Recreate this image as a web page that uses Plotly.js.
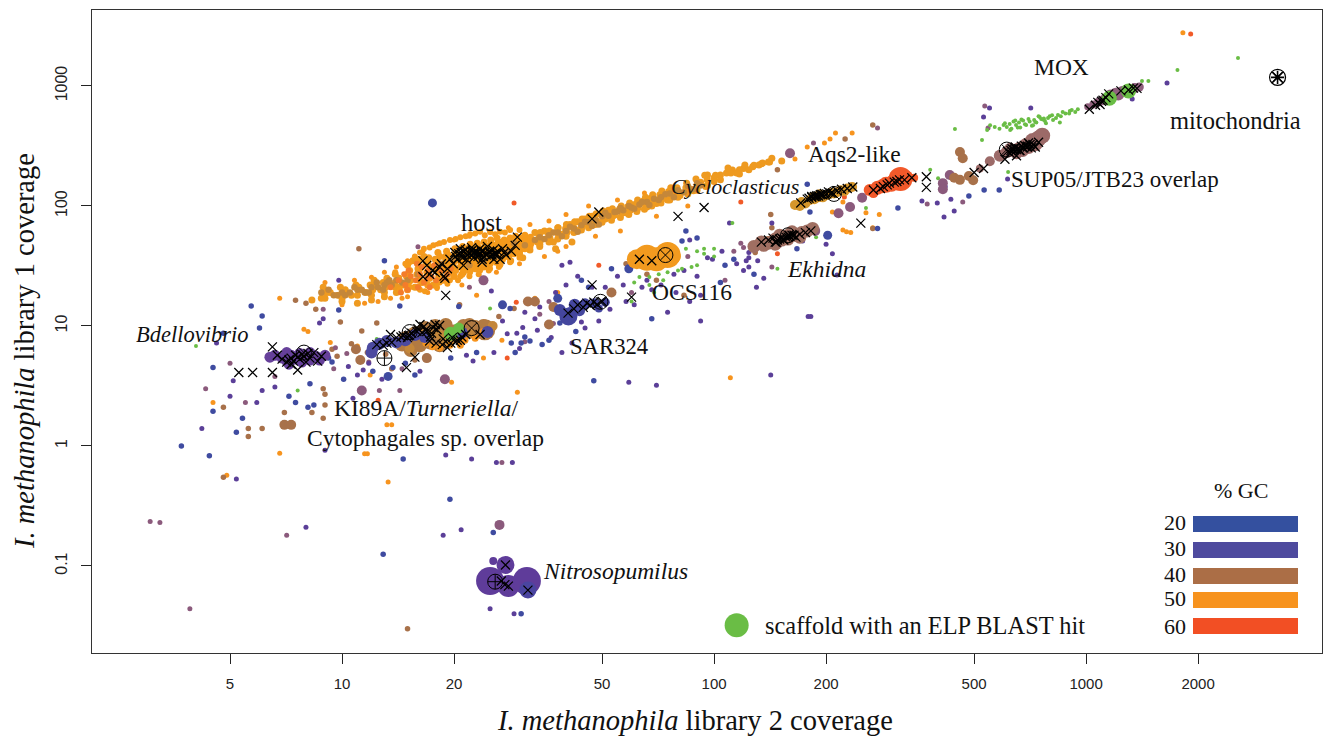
<!DOCTYPE html>
<html><head><meta charset="utf-8">
<script src="https://cdn.plot.ly/plotly-3.0.1.min.js"></script>
<style>html,body{margin:0;padding:0;background:#fff}</style></head>
<body><div id="chart" style="width:1327px;height:740px"></div>
<script>
const xTicks=[5,10,20,50,100,200,500,1000,2000];
const yTicks=[0.1,1,10,100,1000];
const yTickText=['0.1','1','10','100','1000'];
const gcLevels=['20','30','40','50','60'];

const purpleX=[5.1,5,5.9,4.2,5.2,9,19,22.3,28.7,8.9,8.7,25.2,27.8,29.5,30,21.6,25.6,11.4,11,10.7,6.1,41,39,55,51,43,40,47,86,99,96,79,86,92,68,64,92,30.6,33,31,34,39,45,49,59,70,142,182,26,8,25.5,20.9,18.7,25,29,124,136,131,124,122,124,208,200,143,214,179,362,398,433,442,415,418,615,550,710,530,1330,1650,173,110,4.6,6.6,9.8,58,75,115,130,33.5,36.5,41.5,44,37.5,52.5,57,61,66,72,78,83,90,105,120,11.8,10.4,12.8,16.2,22.5,24.5,27];
const purpleY=[3.5,2.6,2.3,1.4,0.53,0.92,0.84,0.78,0.73,11.5,10.6,19.6,8.6,8.7,6.5,5.7,6,4.3,3.9,2.5,2.9,34,32,26,21,26,22,21,52,36,37,19,16,18,20,21,11,9.7,11.5,13,14.4,6,9.6,11,3.4,3.2,3.9,12,0.73,0.21,0.11,0.2,0.18,0.044,0.04,31,25,35,41,35,37,40,48,72,26.6,12,110,106,114,91,81,145,168,655,655,552,780,1060,51,72,7.2,3.1,24,16,13,33,21,9.2,8,7.2,10.8,19,13.8,22,15,24,22,27,29,26,42,29,4.9,4.6,3.6,4.2,5.1,9.4,11];
const blueX=[5.7,6.1,6,4.8,4.5,4.5,5.4,5.2,3.7,4.4,14.6,7.2,7.5,8.1,8.4,8.2,9.8,25.5,28.5,30.3,29.2,23,19.6,13,14.3,20.6,28.3,9.4,9.2,10.1,12.1,13.7,14.8,15.7,53,68,47.5,90,82,84,107,104,167,181,178,275,312,484,532,584,30.3,19.5,12.9,36,44,46,113,128,32,34.5,31,38.5,42.5];
const blueY=[14.7,12.1,9.6,8.7,4.5,1.95,1.7,1.3,1,0.83,0.78,2.6,2.3,2.1,2.2,3.3,13.6,0.19,7.2,7.2,6,6,5.4,35,14.7,14.5,14,5,5.4,3.6,4.2,4.5,4.9,3.9,30,11.5,3.5,54,51,62,32,23,44,89,152,65,96,121,136,136,0.04,0.36,0.125,7.6,24,21,36,27,7.5,7,8.1,10.6,9];
const mauveX=[5,4.3,5.5,3.9,3.24,3.05,7.1,26.9,9.5,14.3,16,14.5,85,113,120,185,275,374,466,534,545,6.6,8.9,12.6,31,22,37,107,143,150,118,9.6,10.3,11.8,34,36,60];
const mauveY=[4.9,3,2.3,0.044,0.23,0.235,0.18,0.73,4.4,2.9,45.7,4.4,38,42,45,335,447,104,108,680,447,3.8,13.8,2.9,7.4,21,10.5,24,31,47,49,6.6,5.9,5,12.5,16,19];
const brownX=[4.8,7,8.3,6.1,5.6,5.6,4.8,7.5,8,8.5,9.9,9.4,11.7,12.4,15.7,20.7,8.9,9,9,8.9,225,267,267,129,142,143,66,70,11.1,15,9.7,11.3,83,58,148,10.6,12.2,13.1,13.6,26.4,29];
const brownY=[2.1,1.9,1.9,1.4,1.4,1.2,0.55,16.4,15.5,13.8,10.8,6.4,6,10.6,5.2,15,3,2.7,2.2,1.7,362,473,65,41,85,66,27,24,44,0.03,5.6,9.1,18,33,200,7.1,6.5,5.8,4.4,12,14];
const orangeX=[6.8,6.8,7.9,8.1,9.3,4.9,11.5,11.7,13.3,13.2,13.6,19.7,29.6,23,26.9,11.9,235,212,205,198,178,165,222,227,233,267,222,278,24,33,11,38,216,208,256,4.5,110.6,1820,9,10,10.8,11.5,12.5,13.5,14.5,15,13,14,15,16.5,18,20,22,25,28,32,36,40,46,55,65,26,30,35,40,48,56,70,85,38,12,17,18,21,24];
const orangeY=[17,0.87,9.4,9,7.3,0.57,0.86,0.86,0.5,1.5,1.5,3.4,2.8,18,7.6,3.9,405,405,362,335,310,246,63,61,60,66,108,85,5.4,17,6.8,19,87,89,88,2.3,3.7,2770,23,15,24,15.5,16,17,17,17.5,28,31,35,42,48,52,56,60,66,70,75,85,100,112,128,28,33,38,46,56,62,82,100,42,25.5,19,20.5,22,25];
const redX=[29.4,27.8,29,12.5,118,224,1910,49,148];
const redY=[15.8,5.4,106,2.4,108,119,2710,32,40];
const greenX=[4.05,25,12.4,7.6,63,67,71,75,80,82,87,79,84,94,100,90,61,60,148,256,216,174,158,188,400,381,617,444,525,542,568,600,612,623,638,648,660,677,690,705,725,735,757,750,775,790,798,815,840,865,900,904,935,850,770,1413,1470,1760,2560,100,94,73,90,67,69,112,552,585,605,630,645,655,670,685,700,715,730,745,765,780,810,830,855,880,915,950,625,665,720];
const greenY=[6.8,14,7.8,2.9,25.6,25.6,27,28,29,30,31,41,44,44,38,32,23,16,30,96,84,60,62,55,170,200,192,438,355,430,455,473,455,482,505,473,495,515,473,505,521,495,530,550,510,540,560,521,573,607,590,620,607,495,535,1100,1100,1360,1710,44,40,24,42,22,19,72,470,440,490,440,515,450,525,480,530,465,500,560,525,490,570,540,560,590,630,640,430,450,470];

const bigMauveX=[24,18.9,216,232,250,187,160,430,412,11.3,412,26.5];
const bigMauveY=[24,3.6,87,98,117,62,275,181,155,2.9,138,0.22];
const bigBrownX=[7,11.2,10.9,31.6,33,36,37,53,128,140,442,458,497,484,458,466,7.3,16.9];
const bigBrownY=[1.5,5.2,6.4,16,16,10.3,14.4,19,46,51,172,165,164,178,282,250,1.5,5.4];
const bigBlueX=[13.3,17.5,27,59,38,202];
const bigBlueY=[3.8,106,15,30,17,57];

const hostOrangeX=[9.3,9.8,10.2,10.6,11.1,11.6,12.3,12.7,13.3,13.9,14.2,14.6,15,15.3,15.7,16,16.2,16.4,16.8,17,17.2,17.6,17.8,18,18.3,18.6,19,19.2,19.6,20,20.2,20.5,20.8,21.2,21.6,22,22.4,22.8,23,23.5,24,24.5,25,25.5,26,26.6,27,27.5,28,29,29.5,30,31,31.5,32,33,33.5,34,35,36,37,38,39,40,41,42,43,44,45,46,47,48,50,51,52,54,56,58,60,62,64,66,68,70,72,75,78,81,84,88,92,96,100,104,108,112,117,120,128,134,141,152,143,140,135,132,127,124,121,117,115,111,109,104,96,15.5,16.6,18.2,19.8,21.4,23.2,24.8,26.4,28.4,30.6,12,11,13,10,8.8,8.3,34,37.5,41.5];
const hostOrangeY=[19,18,20,18,21,19,22,20,23,21,25,22,27,24,21,30,26,23,33,28,25,22,36,31,27,24,38,33,29,26,42,36,31,28,44,38,33,30,46,40,35,32,47,41,36,33,50,43,38,52,45,40,56,48,43,60,50,46,62,54,50,66,58,62,70,61,74,66,78,70,82,73,86,78,92,84,94,88,100,92,106,98,112,105,120,112,130,122,142,134,158,148,172,165,188,199,185,205,218,225,232,237,250,233,228,220,212,200,220,200,188,188,207,181,181,35,38,30,28,33,37,33,44,35,37,16.5,15.5,17.5,16,17,16.5,50,44,50];
const hostCoreX=[15,15.1,14.9,15.2,15,16,16.1,15.9,16.2,16,16.1,17,17.1,16.9,17.2,17,17.1,18,18.2,17.9,18.1,18,18.3,18.1,19,19.2,18.9,19.1,19,19.3,19.1,20,20.2,19.9,20.1,20,20.3,20.1,21,21.2,20.9,21.1,21,21.3,21.1,22,22.2,21.9,22.1,22,22.3,22.1,23,23.2,22.9,23.1,23,23.3,23.1,24,24.2,23.9,24.1,24,24.3,24.1,25,25.2,24.9,25.1,25,25.3,25.1,26,26.2,25.9,26.1,26,26.3,26.1,27,27.2,26.9,27.1,27,27.3,28,28.2,27.9,28.1,28,28.3,29,29.2,28.9,29.1,29,29.3,30,30.2,29.9,30.1,30,31,31.2,30.9,31.1,31,32,32.2,31.9,32.1];
const hostCoreY=[20,23,26,29,32,21,24,27,30,33,36,22,25,28,31,34,37,23,26,29,32,35,38,41,24,27,30,33,36,39,42,26,29,32,35,38,41,44,27,30,33,36,39,42,46,29,32,35,38,41,44,48,30,33,36,39,42,45,49,31,34,37,40,43,46,50,33,36,39,42,45,48,52,34,37,40,43,46,50,54,36,39,42,45,48,52,38,41,44,47,50,54,40,43,46,49,52,56,42,45,48,51,54,44,47,50,53,57,46,49,52,55];
const hostEdgeX=[15.2,16.2,17.2,18.3,19.5,20.8,22.1,23.5,25,26.6,28.3,30,14.3,15.2,16.2,17.2,18.3,19.5,20.8,22.1,23.5,25,26.6,28.3,30,16.6,17.6,18.8,20.2,21.5,22.8,24.2,25.8,27.4,15.7,14.8,13.9,16.7,18,19.2,20.5,22,23.3,24.8,26.4];
const hostEdgeY=[34,41,45,49,52,55,58,61,61,61,63,63,20,21,20,21.5,23,24,26,28,29,30,32,34,37,44,47,50,53,56,59,57,58,60,38,33,28,19.5,21,22.5,24,26,27,29,31];
const hostTailX=[9,9.1,8.9,10,10.1,9.9,11,11.1,10.9,12,12.1,11.9,12.2,13,13.1,12.9,13.2,14,14.1,13.9,14.2,13.9];
const hostTailY=[17,19,21,17,19,21,18,20,22,18,20,22,24,19,21,23,25,19,21,23,25,27];
const hostMidX=[34,34.2,33.9,34.1,36,36.2,35.9,36.1,38,38.2,37.9,38.1,40,40.2,39.9,40.1,42,42.3,41.8,42.2,44,44.3,43.8,44.2,46,46.3,45.8,46.2,48,48.4,47.8,48.2,50,50.4,49.7,50.3,53,53.4,52.7,53.3,56,56.5,55.7,56.3,59,59.5,58.7,59.3,62,62.5,61.6,62.3,65,65.6,64.6,65.4,68,68.6,67.6,68.4,72,72.6,71.5,72.4,76,76.7,75.5,76.5,80,80.7,79.5,85,85.8,84.4,90,90.8,89.4,95,95.8,94.4,100,100.9];
const hostMidY=[48,52,56,60,50,54,58,62,53,57,61,66,56,60,65,70,60,64,69,74,63,68,73,78,66,71,76,82,70,75,80,86,73,79,85,91,76,82,88,95,80,87,94,100,85,92,99,106,90,97,104,112,94,102,110,118,100,108,116,124,106,115,124,133,112,122,132,142,118,130,142,126,140,155,135,150,168,145,165,180,160,180];
const hostTanX=[9.5,10,10.5,11,11.5,12,12.5,13,13.6,14,14.5,15,31,33,35,36,38,40,42,44,46,48,50,52,55,57,60,63,66,69,72,76,80,85,90,22,24,26,28,29,18.5,20,16,13.2,8.8,9.2,9.7,10.2,10.8,11.3,11.8,12.4,12.9,13.4,34,37,39,41,43,45,47,49,51,54,56,59,61,64,67,71,74,78,83,88,92];
const hostTanY=[18,19,19,20,19,21,21,22,22,24,23,24,47,52,53,57,60,62,65,69,73,76,82,83,90,92,97,103,108,115,118,127,135,147,155,32,35,38,42,49,33,37,27,23,19,20,18,18,21,20,19,23,20,24,55,60,56,67,61,74,68,70,88,89,96,100,95,108,102,112,125,118,130,138,148];
const hostRedX=[13.5,14.2,14.8,15.3,15.8,16.2,16.6,17,17.4,17.9,15,16,17.2,18.4,14.4,19.2,16.4,15.1,15.9,17.7,18.8,19.6,16.9,14.7];
const hostRedY=[21,24,22,26,24,27,23,29,26,24,20,21,21,29,19,27,31,29,33,32,25,30,25,27];

const kiBrownX=[14.8,15.7,16.7,17.8,19,20,22,23.5,24,18.3,17.2,16.2,15.3,21.2,18.5,17,15.9,19.5,21,22.8,14.5];
const kiBrownY=[7.9,8.7,9.6,10,10.2,9,10.2,9,10,6.9,7.3,6.9,6.3,10,8,8.5,7.8,8.2,8.7,9.8,7];
const kiTanX=[16.2,17.2,18.3,19.5,20.8,18.9,15.2,22,25.4];
const kiTanY=[8.4,8.4,8.4,7.6,7.6,7.6,6.5,8.6,10];
const kiOrangeX=[19.5,20.8,21.4,22.8,18.3,17.5,16.8,24];
const kiOrangeY=[6.9,6.9,7.6,7.9,6.6,6.7,7.2,9];
const kiBlueX=[12.1,12.6,13.2,14,14.8,12,15.7,16.7,21,24.6];
const kiBlueY=[6.6,7.1,7.5,7.3,7.6,6,8.4,8.1,8.8,8.9];
const kiBigX=[24.2];
const kiBigY=[9.3];

const bdelloX=[6.6,6.9,7.1,7.1,7.3,7.5,7.7,7.8,8,8.2,8.2,8.5,8.7,9,7.2,6.4];
const bdelloY=[5.7,5.4,6,5.1,5.7,5.3,5.9,5,5.6,5.2,6,5.6,5.2,5.7,4.8,5.5];
const sarX=[40.6,38.5,42.2,45,47.8,51,43.5,41,49];
const sarY=[12,13.6,15,15.3,15.5,15.8,13.4,13,14];
const sarSize=[18,12,12,11,10,9,11,10,8];
const ocsX=[66,75,62,70,78];
const ocsY=[37,39,36,36,38];
const ocsSize=[26,26,20,24,14];
const aqsX=[165,172,181,190,198,206,219,228,235,176,186,196,210,170,184,192,202,214,224];
const aqsY=[102,108,112,118,122,128,135,140,144,105,114,118,127,100,118,125,124,130,133];
const ekhX=[128,134,140,146,152,158,165,172,178,184,146,158,136,143,150,162,170];
const ekhY=[46,50,49,53,52,57,57,60,62,65,48,53,47,50,57,61,55];
const redBlobX=[317,262,275,290,304,268,283,345,300,330];
const redBlobY=[168,136,142,150,158,128,146,172,150,175];
const redBlobSize=[24,12,14,16,16,10,14,8,14,12];
const supX=[518,551,586,612,640,663,690,720,745,762,600,650,625,675,700,730];
const supY=[205,236,262,282,290,300,322,345,365,385,270,275,300,290,310,330];
const supSize=[8,10,12,12,13,14,14,17,16,16,10,12,12,13,14,15];
const moxX=[1010,1045,1080,1110,1130,1160,1200,1250,1300,1350,1390,1220];
const moxY=[670,700,735,760,790,840,870,900,925,960,980,850];
const moxSize=[7,8,9,10,10,11,11,11,10,10,9,12];
const elpX=[19.6,20.6,1155,1300];
const elpY=[8.6,9.6,790,910];
const elpSize=[14,11,15,15];
const nitroX=[25,27.5,28,31.4,25.5];
const nitroY=[0.075,0.102,0.068,0.075,0.11];
const nitroSize=[28,18,22,28,8];
const nitroBlueX=[31.6];
const nitroBlueY=[0.063];

const crossX=[16.5,16.5,17.5,17.8,18.5,18.8,19.2,19.5,18.9,20.1,20.4,20.8,21,21.3,21.6,22,22.3,22.6,22.9,23.2,23.5,23.8,24.2,24.6,25,25.5,26,26.6,27,27.6,28.5,29.2,23.8,25.6,21.2,29.6,19,47,49,20.6,21.5,22.4,23.1,24,24.9,20.2,22.2,23.4,25.3,26.2,20.9,21.7,22.6,23.6,24.4,25.7,21.1,22.4,23.7,24.9,26,27.3,18.3,19.9,17.2,16.9,
 12.9,13.6,12.4,14.4,15.2,15.9,16.2,16.9,17.3,17.8,18.3,17.2,17.9,18.6,19.2,20.8,21.5,23.5,15.7,14.9,14,13.5,15,16,16.6,17.6,19.8,20.4,14.6,15.4,16.4,18,19,21,16.8,17.4,18.7,19.6,20.2,15.1,13.2,
 6.5,6.7,6.9,7.1,7.3,7.5,7.6,7.7,7.9,8,8.1,8.2,8.4,8.6,8.8,7.3,5.28,5.75,6.5,7.2,7.6,7.8,7.4,
 40.5,42,43,44.5,45.5,46.5,47.5,48.5,50,47,
 63,68,60,80,94,
 171,178,183,188,193,198,203,208,214,220,228,236,248,180,186,191,196,201,206,183,189,194,
 134,140,146,150,154,158,162,166,170,176,182,144,148,152,156,160,164,147,153,159,
 268,280,292,305,315,325,340,372,372,285,296,310,
 500,530,605,625,640,650,662,675,688,700,712,730,745,650,615,632,645,658,670,682,695,707,720,628,642,664,680,696,
 1020,1060,1100,1130,1150,1240,1300,1340,1370,1090,1110,1075,
 27.5,28,31.6,26.8,27.4];
const crossY=[34.9,25.7,29,28,33,26,30,36,25,41,36,44,38,42,36,40,45,37,42,38,44,36,41,46,38,43,40,36,44,39,42,47,34,36,32,55,18,78,89,40,43,39,41,38,41,38,42,40,39,42,41,39,41,40,39,40,37,43,42,42,39,41,31,33,27,32,
 6.9,7.3,7,8.1,8.4,9,10.3,9,8.1,10.3,10.1,7.5,7.2,7,6.6,7.6,8.5,8.5,5.5,4.5,8,8.5,8,9.5,9.9,9.7,8,7.6,8.3,8.7,8.8,9.3,7.4,8.1,9.3,8.7,7.8,7.2,7.3,8.3,7.2,
 6.7,5.7,5.3,5,5.4,5.7,4.3,5.3,5.6,5,5.9,5.4,6,5.1,5.6,4.8,4.1,4.1,4.1,5.2,5.5,5.8,5.1,
 12.8,13.9,15,14.3,15.5,14.8,15.8,15.1,16,22,
 36,35,17.4,82,97,
 106,114,118,120,124,127,131,128,134,138,140,144,72,116,120,121,124,126,128,120,122,125,
 50,52,50,53,52,55,57,55,58,60,62,54,52,54,55,56,57,50,53,57,
 136,140,150,158,165,165,172,175,143,145,155,160,
 190,205,245,275,295,295,290,305,315,335,305,310,340,262,285,300,310,300,315,320,310,325,325,290,305,290,305,315,
 640,690,745,800,860,910,925,960,955,700,760,730,
 0.102,0.068,0.063,0.075,0.07];
const circPlusX=[13,25.8];
const circPlusY=[5.4,0.074];
const circCrossX=[7.9,22.3,49.5,74,210,158,612,15.2];
const circCrossY=[6.0,9.6,15.9,39,126,57,295,8.9];
const mitoX=[3270];
const mitoY=[1180];
const keyX=[115];
const keyY=[0.0321];

const COL={purple:'#5b3f98',blue:'#3f4ba0',mauve:'#8b5a7c',brown:'#a8714a',tan:'#c4873a',orange:'#f7941e',red:'#f15a28',green:'#6abd45',hostO:'#ee9a20',band:'#d6962b',eka:'#a06f62',sup:'#9c6a68',mox:'#8f5f7c'};
function dots(x,y,color,size){return {type:'scatter',mode:'markers',x,y,hoverinfo:'skip',marker:{color,size,opacity:1,line:{width:0}}};}
const traces=[
 dots(orangeX,orangeY,COL.orange,5),
 dots(hostOrangeX,hostOrangeY,COL.hostO,7),
 dots(hostTailX,hostTailY,COL.hostO,7),
 dots(hostMidX,hostMidY,COL.hostO,7),
 dots(hostCoreX,hostCoreY,'#f59a1c',7),
 dots(hostEdgeX,hostEdgeY,'#f59a1c',6),
 dots(hostTanX,hostTanY,COL.tan,6.5),
 dots(hostRedX,hostRedY,'#f47c2a',6),
 dots(brownX,brownY,COL.brown,5.5),
 dots(mauveX,mauveY,COL.mauve,5),
 dots(purpleX,purpleY,COL.purple,5),
 dots(blueX,blueY,COL.blue,5.5),
 dots(redX,redY,COL.red,5),
 dots(greenX,greenY,COL.green,4),
 dots(bigMauveX,bigMauveY,COL.mauve,10),
 dots(bigBrownX,bigBrownY,COL.brown,10),
 dots(bigBlueX,bigBlueY,COL.blue,9),
 dots(kiBrownX,kiBrownY,'#b27a42',14),
 dots(kiBigX,kiBigY,'#b27a42',21),
 dots(kiTanX,kiTanY,'#c4873a',10),
 dots(kiOrangeX,kiOrangeY,COL.orange,7),
 dots(kiBlueX,kiBlueY,'#4c4aa0',12),
 dots(bdelloX,bdelloY,'#66409a',11),
 dots(sarX,sarY,'#44469e',sarSize),
 dots(ocsX,ocsY,'#f29a1f',ocsSize),
 dots(aqsX,aqsY,COL.band,10),
 dots(ekhX,ekhY,COL.eka,13),
 dots(redBlobX,redBlobY,'#f2592a',redBlobSize),
 dots(supX,supY,COL.sup,supSize),
 dots(moxX,moxY,COL.mox,moxSize),
 dots(elpX,elpY,COL.green,elpSize),
 dots(nitroX,nitroY,'#5f3c9a',nitroSize),
 dots(nitroBlueX,nitroBlueY,'#4a45a0',17),
 {type:'scatter',mode:'markers',x:crossX,y:crossY,hoverinfo:'skip',marker:{symbol:'x-thin-open',size:9,color:'#000',line:{color:'#000',width:1.25}}},
 {type:'scatter',mode:'markers',x:circPlusX,y:circPlusY,hoverinfo:'skip',marker:{symbol:'circle-cross-open',size:15,color:'#000',line:{color:'#000',width:1}}},
 {type:'scatter',mode:'markers',x:circCrossX,y:circCrossY,hoverinfo:'skip',marker:{symbol:'circle-x-open',size:15,color:'#000',line:{color:'#000',width:1}}},
 {type:'scatter',mode:'markers',x:mitoX,y:mitoY,hoverinfo:'skip',marker:{symbol:'circle-x-open',size:16,color:'#000',line:{color:'#000',width:1.2}}},
 {type:'scatter',mode:'markers',x:mitoX,y:mitoY,hoverinfo:'skip',marker:{symbol:'asterisk-open',size:11,color:'#000',line:{color:'#000',width:1.6}}},
 dots(keyX,keyY,COL.green,24)
];
const W=1230,H=643,L=92,T=10;
const px=v=>(v-L)/W, py=v=>1-(v-T)/H;
const SERIF='"Liberation Serif",serif';
function lab(text,x,y,size,anchor){const a=anchor||'left';return {text,xref:'paper',yref:'paper',x:px(a==='left'?x-2:(a==='right'?x+2:x)),y:py(y),xanchor:a,yanchor:'middle',showarrow:false,font:{family:SERIF,size:size||23.5,color:'#111'}};}
const annotations=[
 lab('MOX',1034,67),lab('mitochondria',1170,120,24.5),lab('Aqs2-like',808,154),
 lab('SUP05/JTB23 overlap',1011,180,23),lab('<i>Cycloclasticus</i>',671,186,22),
 lab('<i>Ekhidna</i>',787,269),lab('OCS116',652,292),lab('host',461,222,24.5),
 lab('SAR324',570,346,22.7),lab('<i>Bdellovibrio</i>',136,334,22.5),
 lab('KI89A/<i>Turneriella</i>/',334,408,23.5),lab('Cytophagales sp. overlap',307,438,23.5),
 lab('<i>Nitrosopumilus</i>',543,571,23.5),lab('scaffold with an ELP BLAST hit',765,625,24.4),
 lab('% GC',1241,490,22,'center'),
 ...gcLevels.map((t,i)=>lab(t,1186,[522,548,574,598,626][i],22,'right')),
 lab('<i>I. methanophila</i> library 2 coverage',695,721,28.5,'center'),
 Object.assign(lab('<i>I. methanophila</i> library 1 coverage',24,351,28.5,'center'),{textangle:-90})
];
const legendCols=['#34509f','#4e4a9e','#ab6e46','#f7931e','#f24f24'];
const shapes=legendCols.map((c,i)=>({type:'rect',xref:'paper',yref:'paper',x0:px(1193),x1:px(1298),
 y0:py([516,542,568,592,618][i]),y1:py([532,558,584,608,634][i]),fillcolor:c,line:{width:0}}));
const tickX={family:'"Liberation Sans",Arial,sans-serif',size:15,color:'#222'};
const tickY={family:'"Liberation Sans",Arial,sans-serif',size:16,color:'#222'};
const layout={width:1327,height:740,margin:{l:L,r:5,t:T,b:87},showlegend:false,
 paper_bgcolor:'#fff',plot_bgcolor:'#fff',annotations,shapes,
 xaxis:{type:'log',range:[0.328,3.634],tickmode:'array',tickvals:xTicks,ticktext:xTicks.map(String),ticks:'outside',ticklen:10,tickwidth:1,tickcolor:'#222',showgrid:false,zeroline:false,showline:true,mirror:true,linecolor:'#333',linewidth:1,tickfont:tickX,ticklabelstandoff:7,automargin:false},
 yaxis:{type:'log',range:[-1.725,3.633],tickmode:'array',tickvals:yTicks,ticktext:yTickText,ticks:'outside',ticklen:10,tickwidth:1,tickcolor:'#222',showgrid:false,zeroline:false,showline:true,mirror:true,linecolor:'#333',linewidth:1,tickfont:tickY,tickangle:-90,ticklabelstandoff:8,automargin:false}
};
Plotly.newPlot('chart',traces,layout,{displayModeBar:false,staticPlot:true});
</script></body></html>
